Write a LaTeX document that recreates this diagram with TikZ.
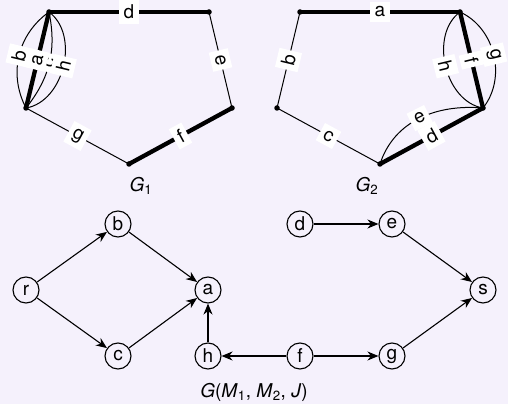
\documentclass[tikz,border=0pt]{standalone}
\usepackage{fontspec}
\setmainfont{TeX Gyre Heros}
\usetikzlibrary{arrows.meta}
\definecolor{bgcol}{RGB}{245,241,252}
\tikzset{
  thinedge/.style={line width=1pt},
  thickedge/.style={line width=4.3pt},
  elab/.style={fill=white, inner sep=4.5pt, sloped, font=\fontsize{19}{22}\selectfont},
  vtx/.style={circle, fill=black, inner sep=0pt, minimum size=5.5pt},
  gnode/.style={circle, draw, line width=1.1pt, minimum size=26pt, inner sep=0pt, font=\fontsize{19}{22}\selectfont},
  arr/.style={line width=1.1pt, -{Stealth[length=11pt,width=9pt,inset=3.5pt]}},
  captxt/.style={font=\fontsize{19}{22}\selectfont}
}
\begin{document}
\begin{tikzpicture}[x=1pt,y=1pt]
\fill[bgcol] (0,0) rectangle (508,404);
\useasboundingbox (0,0) rectangle (508,404);
% G1 vertices
\coordinate (TL1) at (49,392);
\coordinate (TR1) at (209,392);
\coordinate (R1) at (232,296);
\coordinate (B1) at (129,240);
\coordinate (L1) at (26,296);
% G1 edges
\draw[thinedge] (L1) to[bend right=25] node[elab]{c} (TL1);
\draw[thinedge] (L1) to[bend left=41] node[elab]{b} (TL1);
\draw[thickedge] (L1) -- node[elab]{a} (TL1);
\draw[thinedge] (L1) to[bend right=67] node[elab]{h} (TL1);
\draw[thickedge] (TL1) -- node[elab]{d} (TR1);
\draw[thinedge] (TR1) -- node[elab]{e} (R1);
\draw[thickedge] (R1) -- node[elab]{f} (B1);
\draw[thinedge] (L1) -- node[elab]{g} (B1);
\foreach \v in {TL1,TR1,R1,B1,L1} \node[vtx] at (\v) {};
\node[captxt] (g1lab) at (141,218) {\textit{G}\textsubscript{1}};
% G2 vertices
\coordinate (TL2) at (300,392);
\coordinate (TR2) at (460,392);
\coordinate (R2) at (483,296);
\coordinate (B2) at (380,240);
\coordinate (L2) at (277,296);
% G2 edges
\draw[thickedge] (TL2) -- node[elab]{a} (TR2);
\draw[thinedge] (TL2) -- node[elab]{b} (L2);
\draw[thinedge] (L2) -- node[elab]{c} (B2);
\draw[thinedge] (B2) to[out=72, in=175] node[elab]{e} (R2);
\draw[thickedge] (B2) -- node[elab]{d} (R2);
\draw[thinedge] (R2) to[bend left=67] node[elab]{h} (TR2);
\draw[thinedge] (R2) to[bend right=52] node[elab]{g} (TR2);
\draw[thickedge] (R2) -- node[elab]{f} (TR2);
\foreach \v in {TL2,TR2,R2,B2,L2} \node[vtx] at (\v) {};
\node[captxt] (g2lab) at (367,218) {\textit{G}\textsubscript{2}};
% bottom graph
\node[gnode] (r) at (26,114) {r};
\node[gnode] (b) at (118,180) {b};
\node[gnode] (c) at (118,48) {c};
\node[gnode] (a) at (208,114) {a};
\node[gnode] (h) at (208,48) {h};
\node[gnode] (d) at (300,180) {d};
\node[gnode] (e) at (392,180) {e};
\node[gnode] (s) at (483,114) {s};
\node[gnode] (g) at (392,48) {g};
\node[gnode] (f) at (300,48) {f};
\draw[arr] (r) -- (b);
\draw[arr] (r) -- (c);
\draw[arr] (b) -- (a);
\draw[arr] (c) -- (a);
\draw[arr] (h) -- (a);
\draw[arr] (f) -- (h);
\draw[arr] (f) -- (g);
\draw[arr] (d) -- (e);
\draw[arr] (e) -- (s);
\draw[arr] (g) -- (s);
\node[captxt, anchor=base] (glab) at (254,7) {\textit{G}(\textit{M}\textsubscript{1}, \textit{M}\textsubscript{2}, \textit{J})};
\end{tikzpicture}
\end{document}
